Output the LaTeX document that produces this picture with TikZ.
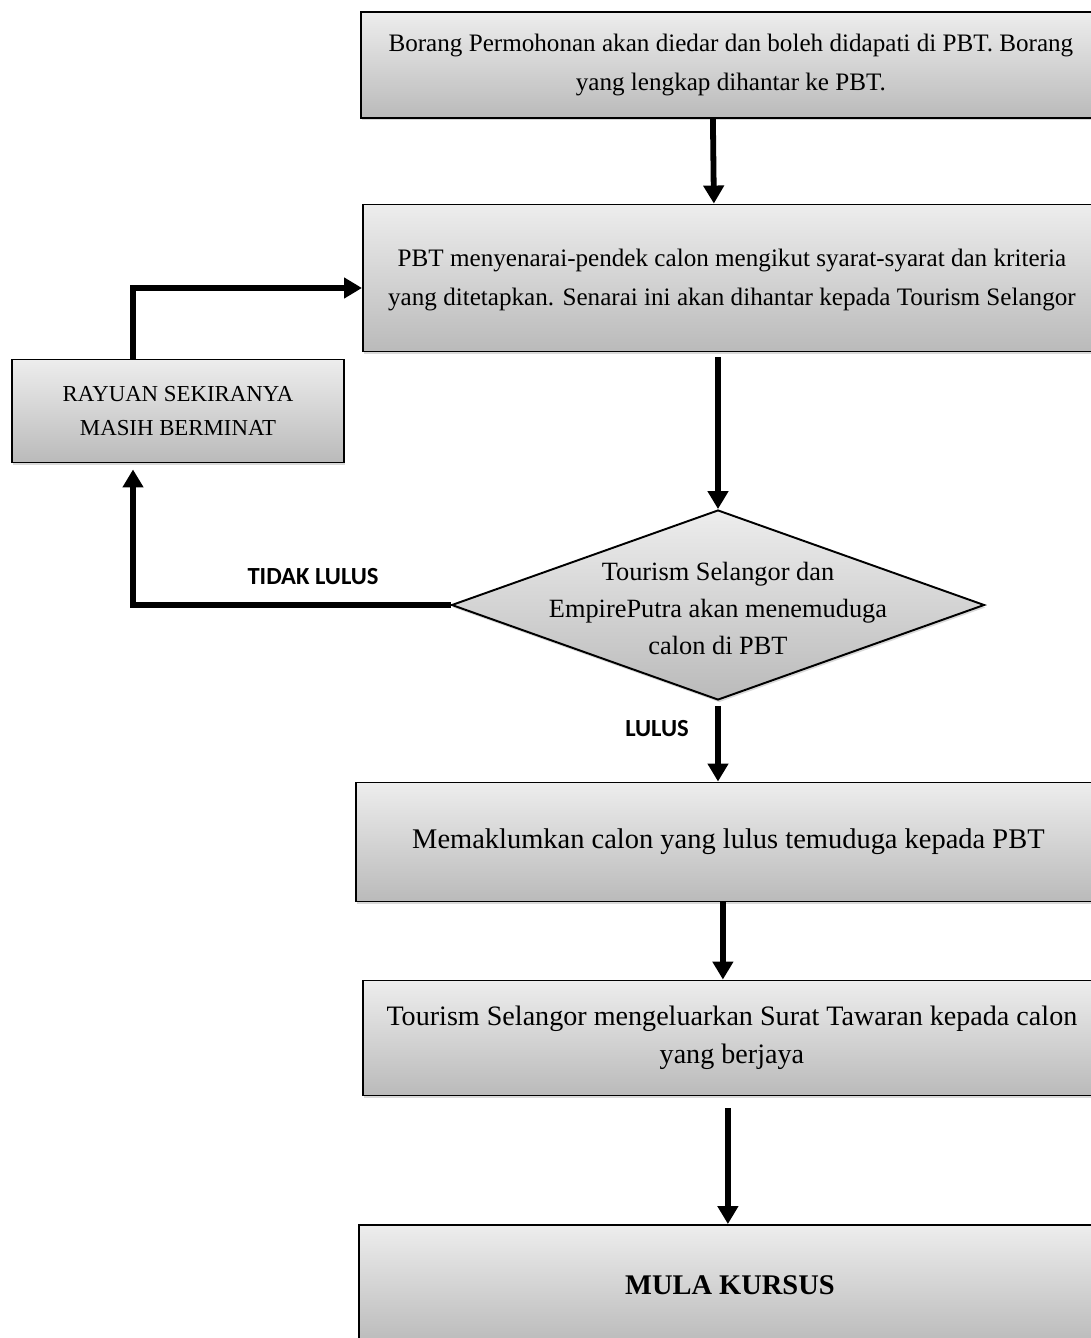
\documentclass[tikz,border=0pt]{standalone}
\usepackage{fontspec}
\setmainfont{Liberation Serif}
\newfontfamily\labelfont{Carlito}
\usetikzlibrary{shapes.geometric,arrows.meta,shadows}

\begin{document}
\begin{tikzpicture}[
  x=0.02cm, y=-0.02cm,
  box/.style={
    rectangle,
    draw,
    line width=1.1pt,
    top color=black!7,
    bottom color=black!27,
    drop shadow={shadow xshift=0.7pt,shadow yshift=-1.4pt,opacity=0.3},
    align=center,
    inner sep=0pt,
    font=\fontsize{14.3}{22}\selectfont,
    anchor=west
  },
  dec/.style={
    diamond,
    draw,
    line width=1.1pt,
    top color=black!7,
    bottom color=black!27,
    drop shadow={shadow xshift=0.7pt,shadow yshift=-1.4pt,opacity=0.3},
    inner sep=0pt
  },
  conn/.style={
    line width=3.3pt,
    -{Triangle[width=0.4cm,length=0.36cm]}
  },
  lbl/.style={font=\labelfont\bfseries\fontsize{14}{16}\selectfont}
]
  \useasboundingbox (0,0) rectangle (1090,1338);
  \node[box,minimum width=14.8cm,minimum height=2.12cm] (form) at (360,65)
    {Borang Permohonan akan diedar dan boleh didapati di PBT. Borang\\yang lengkap dihantar ke PBT.};
  \node[box,minimum width=14.76cm,minimum height=2.94cm] (shortlist) at (362,278)
    {\raisebox{-2.5pt}{\begin{tabular}{@{}c@{}}PBT menyenarai-pendek calon mengikut syarat-syarat dan kriteria\\yang ditetapkan. Senarai ini akan dihantar kepada Tourism Selangor\end{tabular}}};
  \node[box,anchor=center,minimum width=6.64cm,minimum height=2.06cm,font=\fontsize{13}{19}\selectfont] (appeal) at (178,411)
    {RAYUAN SEKIRANYA\\MASIH BERMINAT};
  \node[dec,minimum width=10.66cm,minimum height=3.8cm] (interview) at (718,605) {};
  \node[align=center,font=\fontsize{15}{21}\selectfont] (interviewtext) at ([yshift=-2pt]interview.center)
    {Tourism Selangor dan\\EmpirePutra akan menemuduga\\calon di PBT};
  \node[box,minimum width=14.9cm,minimum height=2.38cm,font=\fontsize{16.2}{22}\selectfont] (notify) at (355,842)
    {Memaklumkan calon yang lulus temuduga kepada PBT};
  \node[box,minimum width=14.76cm,minimum height=2.3cm,font=\fontsize{16}{21.5}\selectfont] (offer) at (362,1038)
    {Tourism Selangor mengeluarkan Surat Tawaran kepada calon\\yang berjaya};
  \node[box,minimum width=14.84cm,minimum height=2.4cm,font=\fontsize{16.2}{22}\selectfont\bfseries] (start) at (358,1285)
    {MULA KURSUS};

  \draw[conn] ([xshift=-0.36cm]form.south) -- ([xshift=-0.36cm]shortlist.north);
  \draw[conn,shorten <=0.1cm] (shortlist.south -| interview.north) -- (interview.north);
  \draw[conn,shorten >=0.12cm] (interview.west) -| ([xshift=-0.9cm]appeal.south);
  \draw[conn] ([xshift=-0.9cm]appeal.north) |- ([yshift=-0.2cm]shortlist.west);
  \draw[conn,shorten <=0.1cm] (interview.south) -- (interview.south |- notify.north);
  \draw[conn] ([xshift=-0.11cm]notify.south) -- ([xshift=-0.11cm]notify.south |- offer.north);
  \draw[conn,shorten <=0.24cm] ([xshift=-0.08cm]offer.south) -- ([xshift=-0.08cm]offer.south |- start.north);

  \node[lbl] (fail) at (313,577) {TIDAK LULUS};
  \node[lbl] (pass) at (657,729) {LULUS};
\end{tikzpicture}
\end{document}
